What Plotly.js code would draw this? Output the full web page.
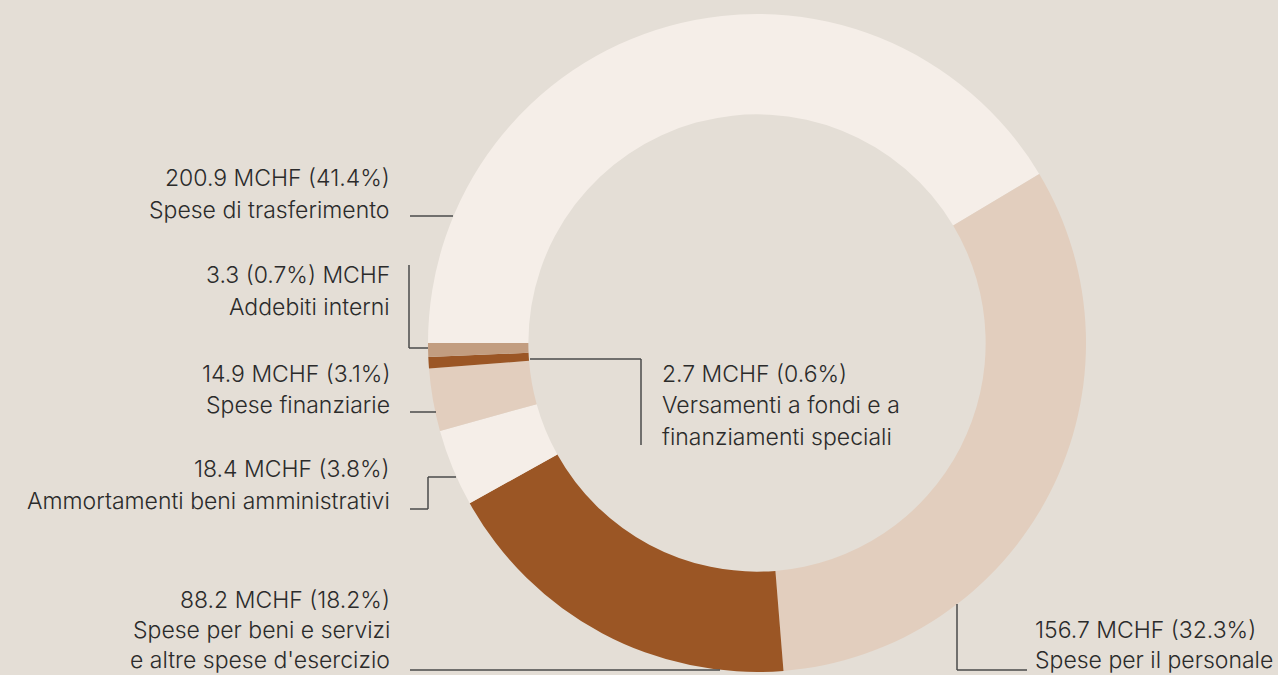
<!DOCTYPE html>
<html>
<head>
<meta charset="utf-8">
<script src="https://cdn.plot.ly/plotly-3.0.1.min.js"></script>
<style>html,body{margin:0;padding:0;background:#e4ded6;}#chart{width:1278px;height:675px;}</style>
</head>
<body>
<div id="chart"></div>
<script>
// Data
const categories = [
  "Spese di trasferimento",
  "Spese per il personale",
  "Spese per beni e servizi e altre spese d'esercizio",
  "Ammortamenti beni amministrativi",
  "Spese finanziarie",
  "Versamenti a fondi e a finanziamenti speciali",
  "Addebiti interni"
];
const valuesMCHF = [200.9, 156.7, 88.2, 18.4, 14.9, 2.7, 3.3];
const percentLabels = ["41.4%", "32.3%", "18.2%", "3.8%", "3.1%", "0.6%", "0.7%"];
const sliceColors = ["#f5eee8", "#e2cebe", "#9b5625", "#f5eee8", "#e2cebe", "#9b5625", "#c29d80"];
const labelLines = [
  ["200.9 MCHF (41.4%)", "Spese di trasferimento"],
  ["156.7 MCHF (32.3%)", "Spese per il personale"],
  ["88.2 MCHF (18.2%)", "Spese per beni e servizi", "e altre spese d'esercizio"],
  ["18.4 MCHF (3.8%)", "Ammortamenti beni amministrativi"],
  ["14.9 MCHF (3.1%)", "Spese finanziarie"],
  ["2.7 MCHF (0.6%)", "Versamenti a fondi e a", "finanziamenti speciali"],
  ["3.3 (0.7%) MCHF", "Addebiti interni"]
];

// Layout helpers (pixel -> paper)
const W = 1278, H = 675;
const px = x => x / W;
const py = y => 1 - y / H;

// label anchor: [x, first line center y, xanchor, line gap]
const labelPos = [
  [391, 178, "right", 31.5],
  [1034, 630, "left", 30],
  [391, 600, "right", 30],
  [391, 469, "right", 31.5],
  [391, 374, "right", 31.5],
  [661, 374, "left", 31.5],
  [391, 275, "right", 31.5]
];
const leaders = [
  [[410,216],[453,216]],
  [[957,604],[957,670],[1027,670]],
  [[410,670],[720,670]],
  [[410,509],[428,509],[428,477],[456,477]],
  [[410,412],[436,412]],
  [[530,359],[641,359],[641,445]],
  [[409,265],[409,348],[428,348]]
];

const annotations = [];
labelLines.forEach((lines, i) => {
  const [x, y0, anchor, gap] = labelPos[i];
  lines.forEach((t, j) => {
    annotations.push({
      text: t, showarrow: false, xref: "paper", yref: "paper",
      x: px(x), y: py(y0 + j * gap), xanchor: anchor, yanchor: "middle",
      align: anchor, borderpad: 0,
      font: {family: "Inter, 'Open Sans', sans-serif", size: 23, weight: 300, color: "#2b2b2b"}
    });
  });
});

const shapes = [];
leaders.forEach(pts => {
  for (let k = 0; k < pts.length - 1; k++) {
    shapes.push({
      type: "line", xref: "paper", yref: "paper", layer: "above",
      x0: px(pts[k][0]), y0: py(pts[k][1]), x1: px(pts[k+1][0]), y1: py(pts[k+1][1]),
      line: {color: "#4a4a4a", width: 1.5}
    });
  }
});

const trace = {
  type: "pie",
  labels: categories,
  values: valuesMCHF,
  hole: 0.695,
  sort: false,
  direction: "clockwise",
  rotation: -90,
  textinfo: "none",
  hoverinfo: "label+value",
  marker: {colors: sliceColors, line: {width: 0}},
  domain: {x: [427 / W, 1087 / W], y: [py(672), py(14)]},
  showlegend: false
};

const layout = {
  width: W, height: H,
  margin: {l: 0, r: 0, t: 0, b: 0},
  paper_bgcolor: "#e4ded6",
  plot_bgcolor: "#e4ded6",
  showlegend: false,
  annotations: annotations,
  shapes: shapes
};

Plotly.newPlot("chart", [trace], layout, {displayModeBar: false, staticPlot: true});
</script>
</body>
</html>
